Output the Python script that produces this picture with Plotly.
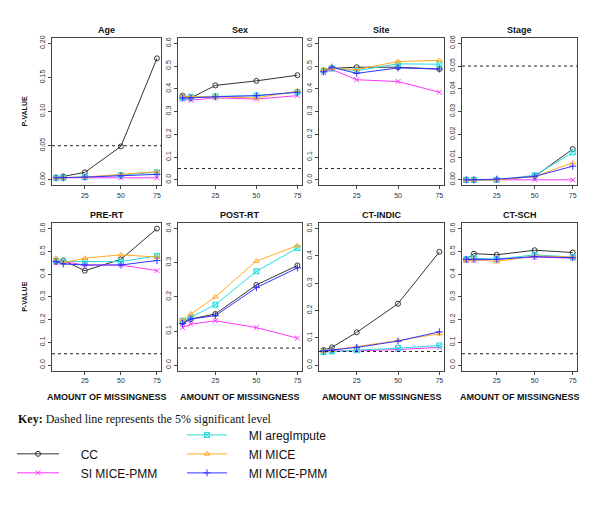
import plotly.graph_objects as go

# ---------------- data ----------------
X_MISSING = [5, 10, 25, 50, 75]
X_TICKS = [25, 50, 75]
PANELS = ["Age", "Sex", "Site", "Stage", "PRE-RT", "POST-RT", "CT-INDIC", "CT-SCH"]
Y_LIMITS = [(0, 0.20), (0, 0.6), (0, 0.6), (0, 0.06), (0, 0.6), (0, 0.4), (0, 0.5), (0, 0.6)]
Y_DTICK = [0.05, 0.1, 0.1, 0.01, 0.1, 0.1, 0.1, 0.1]
SIG_LEVEL = 0.05

CC = [
    [0.003, 0.005, 0.011, 0.049, 0.178],
    [0.370, 0.360, 0.415, 0.435, 0.460],
    [0.480, 0.490, 0.495, 0.495, 0.487],
    [0.000, 0.000, 0.000, 0.0015, 0.0135],
    [0.455, 0.460, 0.415, 0.465, 0.600],
    [0.125, 0.135, 0.150, 0.235, 0.292],
    [0.055, 0.065, 0.120, 0.225, 0.415],
    [0.465, 0.490, 0.485, 0.505, 0.495],
]
SI_MICE_PMM = [
    [0.003, 0.003, 0.003, 0.003, 0.003],
    [0.355, 0.350, 0.360, 0.355, 0.370],
    [0.470, 0.485, 0.440, 0.432, 0.385],
    [0.000, 0.000, 0.000, 0.000, 0.000],
    [0.450, 0.455, 0.440, 0.440, 0.415],
    [0.110, 0.120, 0.130, 0.110, 0.079],
    [0.050, 0.052, 0.052, 0.057, 0.065],
    [0.460, 0.460, 0.465, 0.475, 0.470],
]
MI_AREGIMPUTE = [
    [0.003, 0.003, 0.004, 0.007, 0.011],
    [0.360, 0.365, 0.367, 0.370, 0.385],
    [0.480, 0.490, 0.480, 0.510, 0.508],
    [0.000, 0.000, 0.000, 0.002, 0.012],
    [0.460, 0.455, 0.455, 0.455, 0.480],
    [0.130, 0.140, 0.177, 0.275, 0.343],
    [0.048, 0.050, 0.055, 0.062, 0.072],
    [0.465, 0.470, 0.465, 0.485, 0.475],
]
MI_MICE = [
    [0.003, 0.003, 0.004, 0.008, 0.012],
    [0.370, 0.365, 0.365, 0.360, 0.390],
    [0.485, 0.490, 0.485, 0.520, 0.525],
    [0.000, 0.000, 0.000, 0.0015, 0.0075],
    [0.470, 0.450, 0.470, 0.485, 0.475],
    [0.133, 0.150, 0.200, 0.305, 0.350],
    [0.052, 0.055, 0.068, 0.090, 0.115],
    [0.460, 0.465, 0.455, 0.480, 0.475],
]
MI_MICE_PMM = [
    [0.003, 0.003, 0.004, 0.006, 0.008],
    [0.360, 0.360, 0.365, 0.370, 0.385],
    [0.475, 0.495, 0.468, 0.492, 0.487],
    [0.000, 0.000, 0.0003, 0.0015, 0.006],
    [0.455, 0.445, 0.440, 0.440, 0.460],
    [0.122, 0.135, 0.145, 0.227, 0.285],
    [0.052, 0.055, 0.065, 0.088, 0.122],
    [0.465, 0.465, 0.465, 0.477, 0.472],
]

METHODS = [
    ("CC", CC, "#333333", "circle-open", "legend"),
    ("SI MICE-PMM", SI_MICE_PMM, "#FF33FF", "x-thin-open", "legend"),
    ("MI aregImpute", MI_AREGIMPUTE, "#22DDDD", "square-x-open", "legend2"),
    ("MI MICE", MI_MICE, "#FFAA22", "triangle-up-open", "legend2"),
    ("MI MICE-PMM", MI_MICE_PMM, "#3333FF", "cross-thin-open", "legend2"),
]

# ---------------- layout geometry (pixels) ----------------
W, H = 600, 524
COLS_PX = [(52, 161), (178, 302), (319, 444), (462, 577)]
ROWS_PX = [(36, 184), (222, 370)]
SANS = "Liberation Sans, Arial, Helvetica, sans-serif"
SERIF = "Liberation Serif, Times New Roman, serif"
AXC = "#444444"
LEGEND_GAP = "\u00a0" * 5


def px_x(p):
    return p / W


def px_y(p):
    return 1 - p / H


fig = go.Figure()
layout = dict(
    width=W, height=H, margin=dict(l=0, r=0, t=0, b=0),
    paper_bgcolor="white", plot_bgcolor="white",
    font=dict(family=SANS, color="#222"),
)
annotations = []
shapes = []

for i, name in enumerate(PANELS):
    r, c = divmod(i, 4)
    k = i + 1
    xa = "xaxis" if k == 1 else f"xaxis{k}"
    ya = "yaxis" if k == 1 else f"yaxis{k}"
    xr = "x" if k == 1 else f"x{k}"
    yr = "y" if k == 1 else f"y{k}"
    x0, x1 = COLS_PX[c]
    y0, y1 = ROWS_PX[r]
    lo, hi = Y_LIMITS[i]
    pad = 0.04 * (hi - lo)
    xpad = 0.04 * (max(X_MISSING) - min(X_MISSING))
    layout[xa] = dict(
        domain=[px_x(x0), px_x(x1)], anchor=yr,
        range=[min(X_MISSING) - xpad, max(X_MISSING) + xpad],
        tickvals=X_TICKS, ticks="outside", ticklen=3, tickcolor=AXC,
        showline=True, mirror=True, linecolor=AXC, linewidth=1,
        showgrid=False, zeroline=False,
        tickfont=dict(size=7, color="#333"),
    )
    layout[ya] = dict(
        domain=[px_y(y1), px_y(y0)], anchor=xr,
        range=[lo - pad, hi + pad], dtick=Y_DTICK[i], tick0=0,
        tickformat=".2f" if Y_DTICK[i] < 0.1 else ".1f",
        ticks="outside", ticklen=3, tickcolor=AXC, tickangle=-90,
        showline=True, mirror=True, linecolor=AXC, linewidth=1,
        showgrid=False, zeroline=False,
        tickfont=dict(size=7, color="#333"),
    )
    for mname, data, col, sym, lg in METHODS:
        fig.add_trace(go.Scatter(
            x=X_MISSING, y=data[i], mode="lines+markers", name=LEGEND_GAP + mname,
            xaxis=xr, yaxis=yr, legend=lg, showlegend=(i == 0),
            line=dict(color=col, width=1),
            marker=dict(symbol=sym, size=5, color=col, line=dict(color=col, width=1)),
        ))
    shapes.append(dict(
        type="line", xref=f"{xr} domain", yref=yr, x0=0, x1=1,
        y0=SIG_LEVEL, y1=SIG_LEVEL, line=dict(color="#222", width=1, dash="3px,3px"),
    ))
    annotations.append(dict(
        text=f"<b>{name}</b>", xref="paper", yref="paper",
        x=px_x((x0 + x1) / 2), y=px_y(y0 - 8), xanchor="center", yanchor="middle",
        showarrow=False, font=dict(size=9, family=SANS, color="#111"),
    ))
    if r == 1:
        annotations.append(dict(
            text="<b>AMOUNT OF MISSINGNESS</b>", xref="paper", yref="paper",
            x=px_x((x0 + x1) / 2), y=px_y(397), xanchor="center", yanchor="middle",
            showarrow=False, font=dict(size=9, family=SANS, color="#111"),
        ))
    if c == 0:
        annotations.append(dict(
            text="<b>P-VALUE</b>", xref="paper", yref="paper", textangle=-90,
            x=px_x(25), y=px_y((y0 + y1) / 2), xanchor="center", yanchor="middle",
            showarrow=False, font=dict(size=7, family=SANS, color="#111"),
        ))

annotations.append(dict(
    text="<b>Key:</b> Dashed line represents the 5% significant level",
    xref="paper", yref="paper", x=px_x(16), y=px_y(419), xanchor="left", yanchor="middle",
    showarrow=False, font=dict(size=12, family=SERIF, color="#111"),
))

layout["annotations"] = annotations
layout["shapes"] = shapes
layout["legend"] = dict(
    x=px_x(12), y=px_y(439), xanchor="left", yanchor="top",
    bgcolor="rgba(0,0,0,0)", font=dict(size=12, family=SANS, color="#111"),
    itemwidth=42, tracegroupgap=0,
)
layout["legend2"] = dict(
    x=px_x(182), y=px_y(420), xanchor="left", yanchor="top",
    bgcolor="rgba(0,0,0,0)", font=dict(size=12, family=SANS, color="#111"),
    itemwidth=40, tracegroupgap=0,
)
fig.update_layout(**layout)
fig.write_html("out.html", config={"displayModeBar": False},
               post_script="document.body.style.margin='0';")
